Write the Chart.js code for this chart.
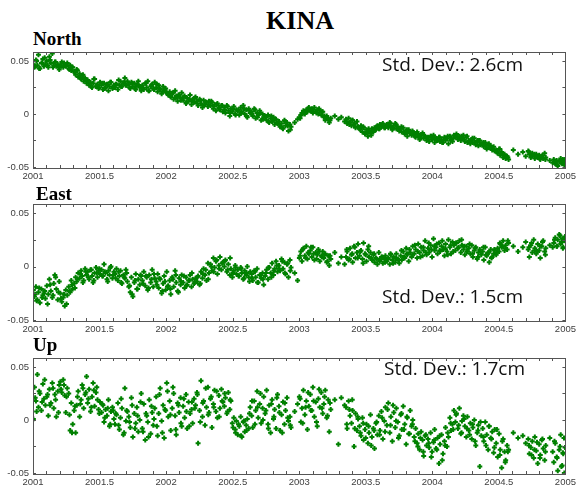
<!DOCTYPE html>
<html>
<head>
<meta charset="utf-8">
<title>KINA</title>
<script src="https://cdn.jsdelivr.net/npm/chart.js@4.4.1/dist/chart.umd.min.js"></script>
<style>
  html, body { margin: 0; padding: 0; background: #fff; overflow: hidden; }
  #page { position: relative; width: 579px; height: 490px; }
  canvas { position: absolute; left: 0; }
  .lbl { position: absolute; font-family: "Liberation Serif", "Times New Roman", serif; font-weight: bold; line-height: 1; white-space: nowrap; color: #000; }
  .sd { position: absolute; font-family: "Open Sans", sans-serif; font-size: 19px; line-height: 19px; white-space: nowrap; color: #111; }
</style>
</head>
<body>
<div id="page">
  <div class="lbl" style="left:0;width:600px;text-align:center;top:8px;font-size:26px">KINA</div>
</div>
<script>
// epochs, days since 2001.0 (shared by all three components)
const epochDays = [
  1,4,8,12,15,19,23,27,30,34,
  38,42,45,49,53,57,60,64,68,72,
  75,79,83,87,90,94,98,102,105,109,
  113,117,120,124,128,132,135,139,143,147,
  150,154,158,162,165,169,173,177,180,184,
  188,192,195,199,203,207,210,214,218,222,
  225,229,233,237,240,244,248,252,255,259,
  263,267,270,274,278,282,285,289,293,297,
  300,304,308,312,315,319,323,327,330,334,
  338,342,345,349,353,357,360,364,367,371,
  375,378,382,386,390,393,397,401,405,408,
  412,416,420,423,427,431,435,438,442,446,
  450,453,457,461,465,468,472,476,480,483,
  487,491,495,498,502,506,510,513,517,521,
  525,528,532,536,540,543,547,551,555,558,
  562,566,570,573,577,581,585,588,592,596,
  600,603,607,611,615,618,622,626,630,633,
  637,641,645,648,652,656,660,663,667,671,
  675,678,682,686,690,693,697,701,705,708,
  718,726,731,735,738,742,746,750,753,757,
  761,765,768,772,776,780,783,787,791,795,
  798,802,806,810,813,817,828,838,846,855,
  859,862,866,870,874,877,881,885,889,892,
  896,900,904,907,911,915,919,922,926,930,
  934,937,941,945,949,952,956,960,964,967,
  971,975,979,982,986,990,994,997,1001,1005,
  1009,1012,1016,1020,1024,1027,1031,1035,1039,1042,
  1046,1050,1054,1057,1061,1065,1069,1072,1076,1080,
  1084,1087,1091,1095,1099,1102,1106,1110,1114,1117,
  1121,1125,1129,1132,1136,1140,1144,1147,1151,1155,
  1159,1162,1166,1170,1174,1177,1181,1185,1189,1192,
  1196,1200,1204,1207,1211,1215,1219,1222,1226,1230,
  1234,1237,1241,1245,1249,1252,1256,1260,1264,1267,
  1271,1275,1279,1282,1286,1290,1294,1297,1301,1305,
  1318,1331,1344,1352,1359,1362,1366,1370,1374,1377,
  1381,1385,1389,1392,1396,1400,1404,1407,1418,1426,
  1429,1433,1437,1440,1444,1448,1452,1455,1458,1460,
  // in-between epochs
  6,10,17,25,32,40,47,55,62,70,
  77,85,92,100,107,115,122,130,137,145,
  152,160,167,175,182,190,197,205,212,220,
  227,235,242,250,257,265,272,280,287,295,
  302,310,317,325,332,340,347,355,362,369,
  377,384,392,399,406,414,421,429,436,444,
  451,459,466,474,481,489,496,504,511,519,
  526,534,541,549,556,564,571,579,586,594,
  601,609,616,624,631,639,646,654,661,669,
  676,684,691,699,706,733,740,748,755,763,
  770,778,785,793,800,808,815,861,868,876,
  883,891,898,906,913,921,928,936,943,951,
  958,966,973,981,988,996,1003,1011,1018,1026,
  1033,1041,1048,1056,1063,1071,1078,1086,1093,1101,
  1108,1116,1123,1131,1138,1146,1153,1161,1168,1176,
  1183,1191,1198,1206,1213,1221,1228,1236,1243,1251,
  1258,1266,1273,1281,1288,1296,1303,1361,1368,1376,
  1383,1391,1398,1406,1431,1438,1446,1450,1454,1457
];

// residuals in mm
const northMm = [
  47,44,51,46,56,43,48,52,45,47,
  50,44,54,48,57,46,49,45,47,42,
  46,49,44,47,45,48,43,46,41,44,
  40,37,42,35,38,33,36,31,34,29,
  32,27,30,25,29,33,26,28,24,30,
  27,23,29,25,28,22,26,30,24,27,
  25,28,23,27,31,26,29,34,27,31,
  28,24,30,26,29,23,27,31,25,22,
  27,23,29,25,31,22,26,28,24,30,
  25,21,27,23,19,26,22,24,20,18,
  21,16,19,14,22,17,12,18,15,20,
  13,17,10,15,12,18,9,14,11,16,
  12,8,14,10,6,13,9,11,7,12,
  8,11,5,9,3,10,6,4,8,2,
  6,1,8,3,-2,5,2,7,0,4,
  3,-1,6,2,8,0,4,-3,5,1,
  2,-2,5,-4,1,-1,3,-6,0,-3,
  -2,-6,-1,-8,-4,-7,-3,-10,-5,-9,
  -7,-12,-9,-14,-6,-11,-8,-16,-10,-12,
  -8,-5,-3,-1,1,3,0,4,2,6,
  3,5,1,6,2,4,0,3,-1,2,
  -3,-6,-2,-5,-8,-4,-2,-5,-3,-7,
  -5,-9,-4,-8,-11,-6,-10,-13,-7,-12,
  -14,-11,-17,-13,-19,-15,-21,-16,-18,-14,
  -17,-13,-15,-11,-14,-10,-12,-9,-13,-11,
  -10,-13,-8,-12,-15,-11,-9,-14,-12,-16,
  -14,-17,-13,-19,-16,-21,-15,-18,-20,-17,
  -19,-22,-17,-21,-24,-20,-18,-23,-21,-25,
  -22,-26,-21,-24,-20,-27,-23,-25,-22,-26,
  -24,-27,-22,-25,-23,-28,-21,-24,-26,-20,
  -22,-19,-24,-21,-25,-23,-20,-26,-22,-27,
  -25,-28,-24,-27,-23,-29,-26,-30,-25,-28,
  -28,-31,-27,-33,-29,-32,-30,-34,-31,-35,
  -34,-37,-33,-39,-36,-41,-38,-42,-40,-43,
  -34,-38,-36,-40,-35,-38,-41,-37,-39,-42,
  -38,-41,-39,-43,-40,-42,-37,-41,-44,-46,
  -43,-47,-44,-49,-45,-42,-47,-44,-48,-43,
  // in-between epochs
  45,50,43,48,53,46,51,44,49,44,
  45,48,46,42,44,39,41,34,37,32,
  30,26,33,27,25,29,24,27,30,25,
  28,32,26,30,27,25,29,24,28,26,
  24,29,22,27,23,28,24,21,23,19,
  17,20,15,18,13,16,11,14,12,15,
  10,13,8,11,9,12,7,9,5,8,
  4,7,1,5,-1,4,1,5,-2,3,
  0,4,-3,1,-5,-3,-7,-2,-6,-8,
  -10,-13,-7,-11,-15,-4,0,2,5,3,
  4,1,5,2,-2,-4,-6,-7,-10,-6,
  -9,-12,-15,-12,-18,-14,-20,-15,-12,-14,
  -10,-13,-11,-9,-13,-10,-14,-12,-17,-15,
  -18,-16,-21,-19,-23,-20,-22,-24,-21,-23,
  -25,-22,-27,-23,-21,-25,-23,-20,-23,-21,
  -24,-21,-26,-23,-27,-25,-29,-27,-30,-28,
  -32,-34,-36,-33,-38,-40,-41,-36,-40,-38,
  -40,-42,-39,-43,-45,-48,-44,-46,-43,-47
];

const eastMm = [
  -22,-28,-19,-31,-24,-34,-21,-27,-25,-30,
  -18,-26,-12,-23,-29,-16,-8,-21,-31,-14,
  -25,-33,-29,-37,-22,-27,-19,-24,-13,-21,
  -16,-10,-14,-6,-11,-4,-9,-13,-2,-8,
  -5,-12,-3,-9,-15,-6,-1,-10,-4,-7,
  -3,-9,2,-6,-12,-4,-8,0,-11,-5,
  -7,-2,-13,-9,-4,-16,-8,-11,-3,-14,
  -19,-24,-10,-28,-15,-7,-21,-12,-17,-9,
  -13,-5,-18,-10,-22,-8,-15,-3,-19,-11,
  -14,-7,-20,-12,-25,-16,-9,-22,-5,-18,
  -13,-26,-10,-19,-4,-15,-23,-11,-17,-8,
  -15,-20,-10,-17,-13,-8,-19,-12,-16,-11,
  -14,-9,-17,-5,-11,-2,-8,-13,3,-6,
  2,-4,8,-1,5,-7,1,9,-3,4,
  0,6,-5,2,-8,-2,-10,-4,1,-7,
  -3,-9,-1,-6,-12,-4,-8,0,-10,-5,
  -7,-13,-4,-10,-2,-15,-8,-11,-6,-17,
  -9,-3,-12,-1,-6,3,-8,-2,5,-5,
  1,-4,7,-2,4,-7,2,-10,6,-1,
  -6,-13,8,14,5,17,10,19,7,12,
  15,9,18,6,13,11,16,5,10,14,
  8,12,4,10,1,7,13,3,9,2,
  9,14,6,17,11,4,19,8,13,21,
  10,15,7,22,12,5,16,9,13,6,
  11,4,8,2,13,6,9,3,7,10,
  5,8,2,11,6,9,4,12,7,3,
  10,6,14,8,17,11,5,13,9,19,
  12,16,8,21,13,18,10,15,24,11,
  17,13,20,9,26,15,18,12,22,14,
  19,16,10,21,14,25,18,12,23,20,
  15,22,17,24,13,20,16,11,19,14,
  17,12,20,9,15,18,7,13,16,11,
  14,6,18,10,13,4,16,9,12,15,
  11,17,14,21,18,24,15,20,16,22,
  19,14,18,23,16,9,20,13,25,17,
  12,21,15,8,19,24,14,17,20,18,
  22,27,19,25,30,21,26,18,24,28,
  // in-between epochs
  -26,-32,-20,-29,-23,-35,-17,-27,-10,-24,
  -30,-26,-35,-23,-17,-20,-12,-7,-15,-5,
  -10,-3,-13,-6,-2,-9,-5,-14,-1,-8,
  -11,-5,-15,-10,-6,-18,-26,-13,-21,-8,
  -16,-9,-20,-12,-7,-17,-11,-23,-14,-19,
  -21,-12,-8,-24,-14,-9,-18,-13,-6,-15,
  -10,-16,-7,-3,-12,0,-5,6,-2,3,
  5,-3,8,-6,-1,-9,-2,-11,-6,-14,
  -11,-5,-15,-8,-12,-6,-1,-10,-4,1,
  -2,5,-6,3,-4,10,16,8,13,18,
  12,7,14,9,11,5,10,16,7,12,
  18,8,14,3,11,19,8,12,7,5,
  9,4,7,12,3,8,6,15,9,12,
  16,11,20,14,9,18,13,22,16,19,
  21,15,24,17,11,20,14,22,18,25,
  19,14,21,12,17,9,14,18,11,13,
  8,16,13,22,19,17,24,18,22,15,
  14,19,23,11,25,19,29,23,17,26
];

const upMm = [
  1,31,18,43,12,25,9,34,20,14,
  22,4,29,16,35,11,24,3,27,33,
  36,26,38,23,7,30,25,-10,16,-4,
  9,-12,14,27,3,19,33,11,24,41,
  16,29,8,22,35,13,26,19,10,17,
  7,14,-2,10,4,19,-6,8,12,1,
  -4,5,16,-9,2,11,-14,30,-1,8,
  3,-7,21,-16,6,-3,12,-11,0,25,
  -8,15,-19,4,-2,19,-13,7,-5,11,
  22,-15,6,30,-1,14,-17,9,35,3,
  18,-10,11,25,4,-14,16,7,21,-6,
  13,2,24,-8,17,6,10,-3,20,14,
  26,-22,9,37,3,18,-5,12,31,7,
  20,-7,15,28,8,2,23,11,29,17,
  13,21,6,26,10,18,-3,2,-9,-1,
  -14,-6,3,-16,-2,-11,-5,1,-8,12,
  4,-7,18,9,27,2,15,-3,11,22,
  6,28,-4,14,-12,19,1,10,-8,24,
  13,-10,5,17,-4,9,21,-1,3,-7,
  8,15,22,-2,11,28,5,18,-9,13,
  24,9,31,3,17,-6,20,12,26,6,
  15,28,2,19,-11,10,19,-23,21,14,
  12,-8,18,4,-3,9,-25,6,-10,1,
  -6,-15,2,-19,-9,-4,-22,-12,5,-16,
  -8,-27,-3,-14,4,-10,8,-18,-1,12,
  -5,16,-12,3,-20,7,-7,11,-2,-15,
  5,-9,13,-4,-23,2,-13,9,-6,0,
  -16,-8,-22,-13,-28,-11,-19,-34,-15,-24,
  -18,-26,-12,-30,-21,-9,-27,-17,-41,-23,
  -14,-32,-20,-7,-25,-16,2,-10,-4,9,
  -2,6,-8,11,-13,-1,4,-6,-16,3,
  -10,-3,-18,-7,0,-24,-12,-5,-44,-15,
  -8,-20,-2,-14,-28,-6,-17,-11,-31,-9,
  -22,-35,-13,-28,-45,-18,-30,-38,-24,-28,
  -12,-17,-15,-22,-18,-32,-26,-20,-36,-16,
  -29,-41,-23,-33,-19,-27,-38,-24,-17,-30,
  -40,-22,-35,-48,-28,-14,-43,-32,-50,-26,
  // in-between epochs
  21,8,27,17,38,24,14,30,19,7,
  29,33,22,5,-12,13,22,15,30,26,
  20,12,28,31,6,15,2,11,-4,9,
  6,-5,20,-12,9,-2,14,-8,4,17,
  -11,6,-16,13,1,-6,24,-12,10,27,
  5,31,-9,14,-3,20,8,-6,17,11,
  24,-2,16,30,5,22,12,27,3,18,
  25,8,19,-7,-12,-4,-15,-1,-10,6,
  18,-4,12,25,0,9,-8,15,3,21,
  7,-12,16,2,-5,20,-3,12,26,9,
  18,-2,29,11,22,4,16,-4,10,19,
  -8,3,-12,-3,-17,-6,-24,-10,-2,-14,
  2,-11,10,-5,14,-1,-17,6,-9,3,
  -13,-4,-20,-25,-17,-30,-14,-22,-35,-19,
  -28,-15,-38,-24,-12,-3,-9,5,-5,-12,
  1,-8,-14,-4,-20,-10,-2,-16,-24,-6,
  -18,-26,-9,-33,-20,-40,-30,-24,-33,-28,
  -21,-36,-18,-30,-20,-36,-25,-44,-31,-17
];

const panelNames = ['North', 'East', 'Up'];
const panelSeries = [northMm, eastMm, upMm];
const stdDevLabels = ['Std. Dev.: 2.6cm', 'Std. Dev.: 1.5cm', 'Std. Dev.: 1.7cm'];
const xTickLabels = ['2001', '2001.5', '2002', '2002.5', '2003', '2003.5', '2004', '2004.5', '2005'];
const yTickValues = [-50, 0, 50];
const yTickLabels = ['-0.05', '0', '0.05'];

// page layout (pixels)
const boxes = [
  { top: 52, height: 116, nameTop: 29, nameLeft: 33, sdTop: 55, sdLeft: 382 },
  { top: 204, height: 117, nameTop: 184, nameLeft: 36, sdTop: 287, sdLeft: 382 },
  { top: 358, height: 116, nameTop: 335, nameLeft: 33, sdTop: 359, sdLeft: 384 }
];
const PAD_TOP = 10, AXIS_H = 22, AXIS_W = 33, PAD_RIGHT = 11;
const GREEN = '#008000';

// frame + inward tick marks
const framePlugin = {
  id: 'frame',
  afterDraw(chart) {
    const { ctx, chartArea: a, scales } = chart;
    ctx.save();
    ctx.strokeStyle = '#555';
    ctx.lineWidth = 1;
    ctx.beginPath();
    scales.x.ticks.forEach(t => {
      const px = Math.round(scales.x.getPixelForValue(t.value)) + 0.5;
      ctx.moveTo(px, a.top); ctx.lineTo(px, a.top + 3);
      ctx.moveTo(px, a.bottom); ctx.lineTo(px, a.bottom - 3);
    });
    scales.y.ticks.forEach(t => {
      const py = Math.round(scales.y.getPixelForValue(t.value)) + 0.5;
      ctx.moveTo(a.left, py); ctx.lineTo(a.left + 3, py);
      ctx.moveTo(a.right, py); ctx.lineTo(a.right - 3, py);
    });
    ctx.stroke();
    ctx.strokeRect(Math.round(a.left) + 0.5, Math.round(a.top) + 0.5,
      Math.round(a.right - a.left), Math.round(a.bottom - a.top));
    ctx.restore();
  }
};

const page = document.getElementById('page');

panelNames.forEach((name, i) => {
  const box = boxes[i];

  const title = document.createElement('div');
  title.className = 'lbl';
  title.style.cssText = `left:${box.nameLeft}px;top:${box.nameTop}px;font-size:19px`;
  title.textContent = name;
  page.appendChild(title);

  const canvas = document.createElement('canvas');
  canvas.width = 579;
  canvas.height = box.height + PAD_TOP + AXIS_H;
  canvas.style.top = (box.top - PAD_TOP) + 'px';
  page.appendChild(canvas);

  const sd = document.createElement('div');
  sd.className = 'sd';
  sd.style.cssText = `left:${box.sdLeft}px;top:${box.sdTop}px`;
  sd.textContent = stdDevLabels[i];
  page.appendChild(sd);

  const points = epochDays.map((d, k) => ({ x: 2001 + d / 365.25, y: panelSeries[i][k] }));

  new Chart(canvas.getContext('2d'), {
    type: 'scatter',
    data: {
      datasets: [{
        data: points,
        pointStyle: 'cross',
        pointRadius: 2.5,
        pointBorderWidth: 2,
        pointBorderColor: GREEN,
        pointBackgroundColor: GREEN,
        borderColor: GREEN,
        backgroundColor: GREEN
      }]
    },
    options: {
      responsive: false,
      animation: false,
      devicePixelRatio: 1,
      layout: { padding: { top: PAD_TOP, right: PAD_RIGHT, left: 0, bottom: 0 } },
      plugins: { legend: { display: false }, tooltip: { enabled: false }, title: { display: false } },
      scales: {
        x: {
          type: 'linear',
          min: 2001,
          max: 2005,
          grid: { display: false, drawTicks: false },
          border: { display: false },
          afterFit: s => { s.height = AXIS_H; },
          ticks: {
            stepSize: 0.1,
            autoSkip: false,
            maxRotation: 0,
            padding: 3,
            color: '#404040',
            font: { family: 'Liberation Sans, Arial, sans-serif', size: 9.5 },
            callback: v => {
              const h = (v - 2001) * 2;
              const k = Math.round(h);
              return Math.abs(h - k) < 1e-6 ? xTickLabels[k] : '';
            }
          }
        },
        y: {
          min: -51,
          max: 58.5,
          grid: { display: false, drawTicks: false },
          border: { display: false },
          afterFit: s => { s.width = AXIS_W; },
          ticks: {
            stepSize: 25,
            includeBounds: false,
            padding: 4,
            color: '#404040',
            font: { family: 'Liberation Sans, Arial, sans-serif', size: 9.5 },
            callback: v => {
              const k = yTickValues.indexOf(v);
              return k >= 0 ? yTickLabels[k] : '';
            }
          }
        }
      }
    },
    plugins: [framePlugin]
  });
});
</script>
</body>
</html>
